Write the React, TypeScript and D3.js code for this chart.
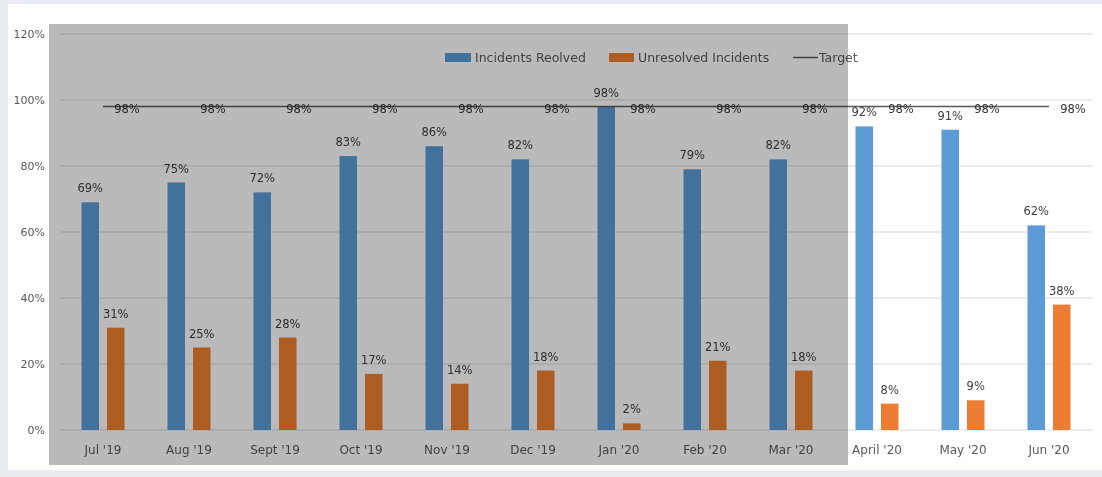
import React from "react";
import * as d3 from "d3";

const categories = ["Jul '19", "Aug '19", "Sept '19", "Oct '19", "Nov '19", "Dec '19", "Jan '20", "Feb '20", "Mar '20", "April '20", "May '20", "Jun '20"];
const resolved = [69, 75, 72, 83, 86, 82, 98, 79, 82, 92, 91, 62];
const unresolved = [31, 25, 28, 17, 14, 18, 2, 21, 18, 8, 9, 38];
const target = [98, 98, 98, 98, 98, 98, 98, 98, 98, 98, 98, 98];
const yTicks = [0, 20, 40, 60, 80, 100, 120];
const seriesKeys = ["resolved", "unresolved"];
const legendLabels = ["Incidents Reolved", "Unresolved Incidents", "Target"];

const W = 1102;
const H = 477;
const FONT = "'DejaVu Sans', Verdana, sans-serif";
const BLUE = "#5b9bd5";
const ORANGE = "#ed7d31";

export default function App() {
  const x = d3.scaleBand<string>().domain(categories).range([60, 1092]).padding(0);
  const y = d3.scaleLinear().domain([0, 120]).range([430, 34]);
  const x1 = d3.scaleBand<string>().domain(seriesKeys).range([-21.5, 21.5]).paddingInner(0.314).paddingOuter(0);
  const cx = (c: string) => (x(c) as number) + x.bandwidth() / 2;
  const line = d3
    .line<number>()
    .x((_, i) => cx(categories[i]))
    .y((d) => y(d));

  return (
    <svg width={W} height={H} style={{ position: "absolute", left: 0, top: 0 }}>
      <defs>
        <filter id="soft" x="-1%" y="-1%" width="102%" height="102%">
          <feGaussianBlur stdDeviation="0.6" />
        </filter>
      </defs>
      <rect x={0} y={0} width={W} height={H} fill="#e9edf1" />
      <rect x={8} y={4} width={W - 8} height={466} fill="#ffffff" />
      <g filter="url(#soft)">
        {yTicks.map((t) => (
          <g key={t}>
            <line x1={60} x2={1092} y1={y(t)} y2={y(t)} stroke="#d9d9d9" strokeWidth={1} />
            <text x={45} y={y(t)} dy="0.35em" textAnchor="end" fontSize={11} fill="#595959" fontFamily={FONT}>
              {t}%
            </text>
          </g>
        ))}
        {categories.map((c, i) => (
          <g key={c}>
            <rect
              x={cx(c) + (x1("resolved") as number)}
              y={y(resolved[i])}
              width={x1.bandwidth()}
              height={y(0) - y(resolved[i])}
              fill={BLUE}
            />
            <rect
              x={cx(c) + (x1("unresolved") as number)}
              y={y(unresolved[i])}
              width={x1.bandwidth()}
              height={y(0) - y(unresolved[i])}
              fill={ORANGE}
            />
            <text
              x={cx(c) + (x1("resolved") as number) + x1.bandwidth() / 2}
              y={y(resolved[i]) - 10}
              textAnchor="middle"
              fontSize={11.5}
              fill="#404040"
              fontFamily={FONT}
            >
              {resolved[i]}%
            </text>
            <text
              x={cx(c) + (x1("unresolved") as number) + x1.bandwidth() / 2}
              y={y(unresolved[i]) - 10}
              textAnchor="middle"
              fontSize={11.5}
              fill="#404040"
              fontFamily={FONT}
            >
              {unresolved[i]}%
            </text>
            <text x={cx(c)} y={454} textAnchor="middle" fontSize={12} fill="#595959" fontFamily={FONT}>
              {c}
            </text>
          </g>
        ))}
        <path d={line(target) || ""} fill="none" stroke="#595959" strokeWidth={1.5} />
        {categories.map((c, i) => (
          <text
            key={"t" + c}
            x={cx(c) + 24}
            y={y(target[i]) + 2}
            dy="0.35em"
            textAnchor="middle"
            fontSize={11.5}
            fill="#333333"
            fontFamily={FONT}
          >
            {target[i]}%
          </text>
        ))}
        <g fontFamily={FONT} fontSize={12.5} fill="#595959">
          <rect x={445} y={53} width={26} height={9} fill={BLUE} />
          <text x={475} y={58} dy="0.35em">{legendLabels[0]}</text>
          <rect x={609} y={53} width={25} height={9} fill={ORANGE} />
          <text x={638} y={58} dy="0.35em">{legendLabels[1]}</text>
          <line x1={793} x2={818} y1={57.5} y2={57.5} stroke="#595959" strokeWidth={1.5} />
          <text x={819} y={58} dy="0.35em">{legendLabels[2]}</text>
        </g>
        <rect x={49} y={24} width={799} height={441} fill="#000000" fillOpacity={0.27} />
      </g>
    </svg>
  );
}
